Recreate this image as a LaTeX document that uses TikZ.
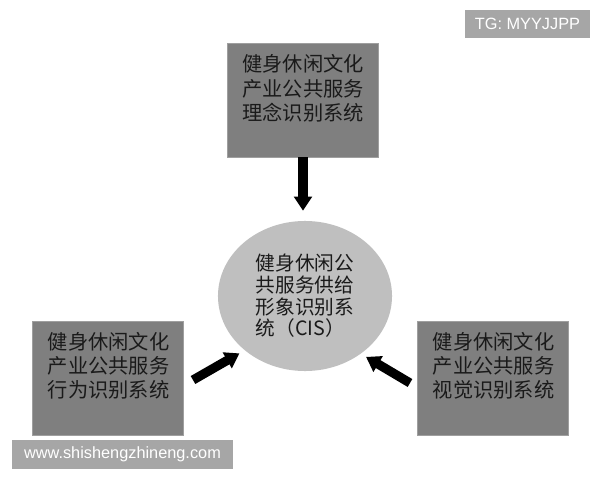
\documentclass[tikz,border=0pt]{standalone}
\usepackage{fontspec}
\newfontfamily\cjk{Noto Sans CJK SC}
\newfontfamily\wmfont{Liberation Sans}
\usetikzlibrary{shapes.geometric,arrows.meta,positioning,calc}
\definecolor{boxgray}{HTML}{7F7F7F}
\definecolor{cisgray}{HTML}{BFBFBF}
\definecolor{wmgray}{HTML}{A6A6A6}
\definecolor{txt}{HTML}{1A1A1A}

\begin{document}
\begin{tikzpicture}
	[ x=0.025cm, y=-0.025cm,
	  box/.style={ draw=gray!75, line width=0.6pt, fill=boxgray, minimum width=3.775cm, minimum height=2.85cm, inner sep=0pt },
	  t/.style={ anchor=north west, inner sep=0pt, align=left, text=txt, font=\cjk\fontsize{14.4}{17.2}\selectfont },
	  cis/.style={ ellipse, fill=cisgray, minimum width=4.35cm, minimum height=3.75cm, inner sep=0pt,
	    align=left, text=txt, font=\cjk\fontsize{14}{15.4}\selectfont },
	  arr/.style={ line width=6.5pt, -{Triangle[width=12.5pt,length=10pt]} },
	  wm/.style={ fill=wmgray, text=white, inner sep=0pt, font=\wmfont\fontsize{11.6}{14}\selectfont }
	]
	\fill[white] (0,0) rectangle (600,480);

	\node[box] (idea) at (303,100) {};
	\node[t] (idea-t) at ([shift={(15,12)}]idea.north west) {健身休闲文化\\产业公共服务\\理念识别系统};

	\node[box] (behav) at (107.5,378.5) {};
	\node[t] (behav-t) at ([shift={(16,11)}]behav.north west) {健身休闲文化\\产业公共服务\\行为识别系统};

	\node[box] (visual) at (492.5,378.5) {};
	\node[t] (visual-t) at ([shift={(16,11)}]visual.north west) {健身休闲文化\\产业公共服务\\视觉识别系统};

	\node[cis] (cis) at (305,296) {健身休闲公\\共服务供给\\形象识别系\\统（CIS）};

	\coordinate (btail) at (193,380);
	\coordinate (vtail) at (410,383);
	\draw[arr, shorten >=0.25cm] (idea.south) -- (idea.south |- cis.north);
	\draw[arr, shorten >=0.15cm] (btail) -- (cis.222);
	\draw[arr, shorten >=0.15cm] (vtail) -- (cis.314);

	\node[wm, minimum width=3.125cm, minimum height=0.7cm] (tg) at (527.5,24) {TG: MYYJJPP};
	\node[wm, minimum width=5.525cm, minimum height=0.725cm] (www) at (122.5,454.5) {www.shishengzhineng.com};
\end{tikzpicture}
\end{document}
